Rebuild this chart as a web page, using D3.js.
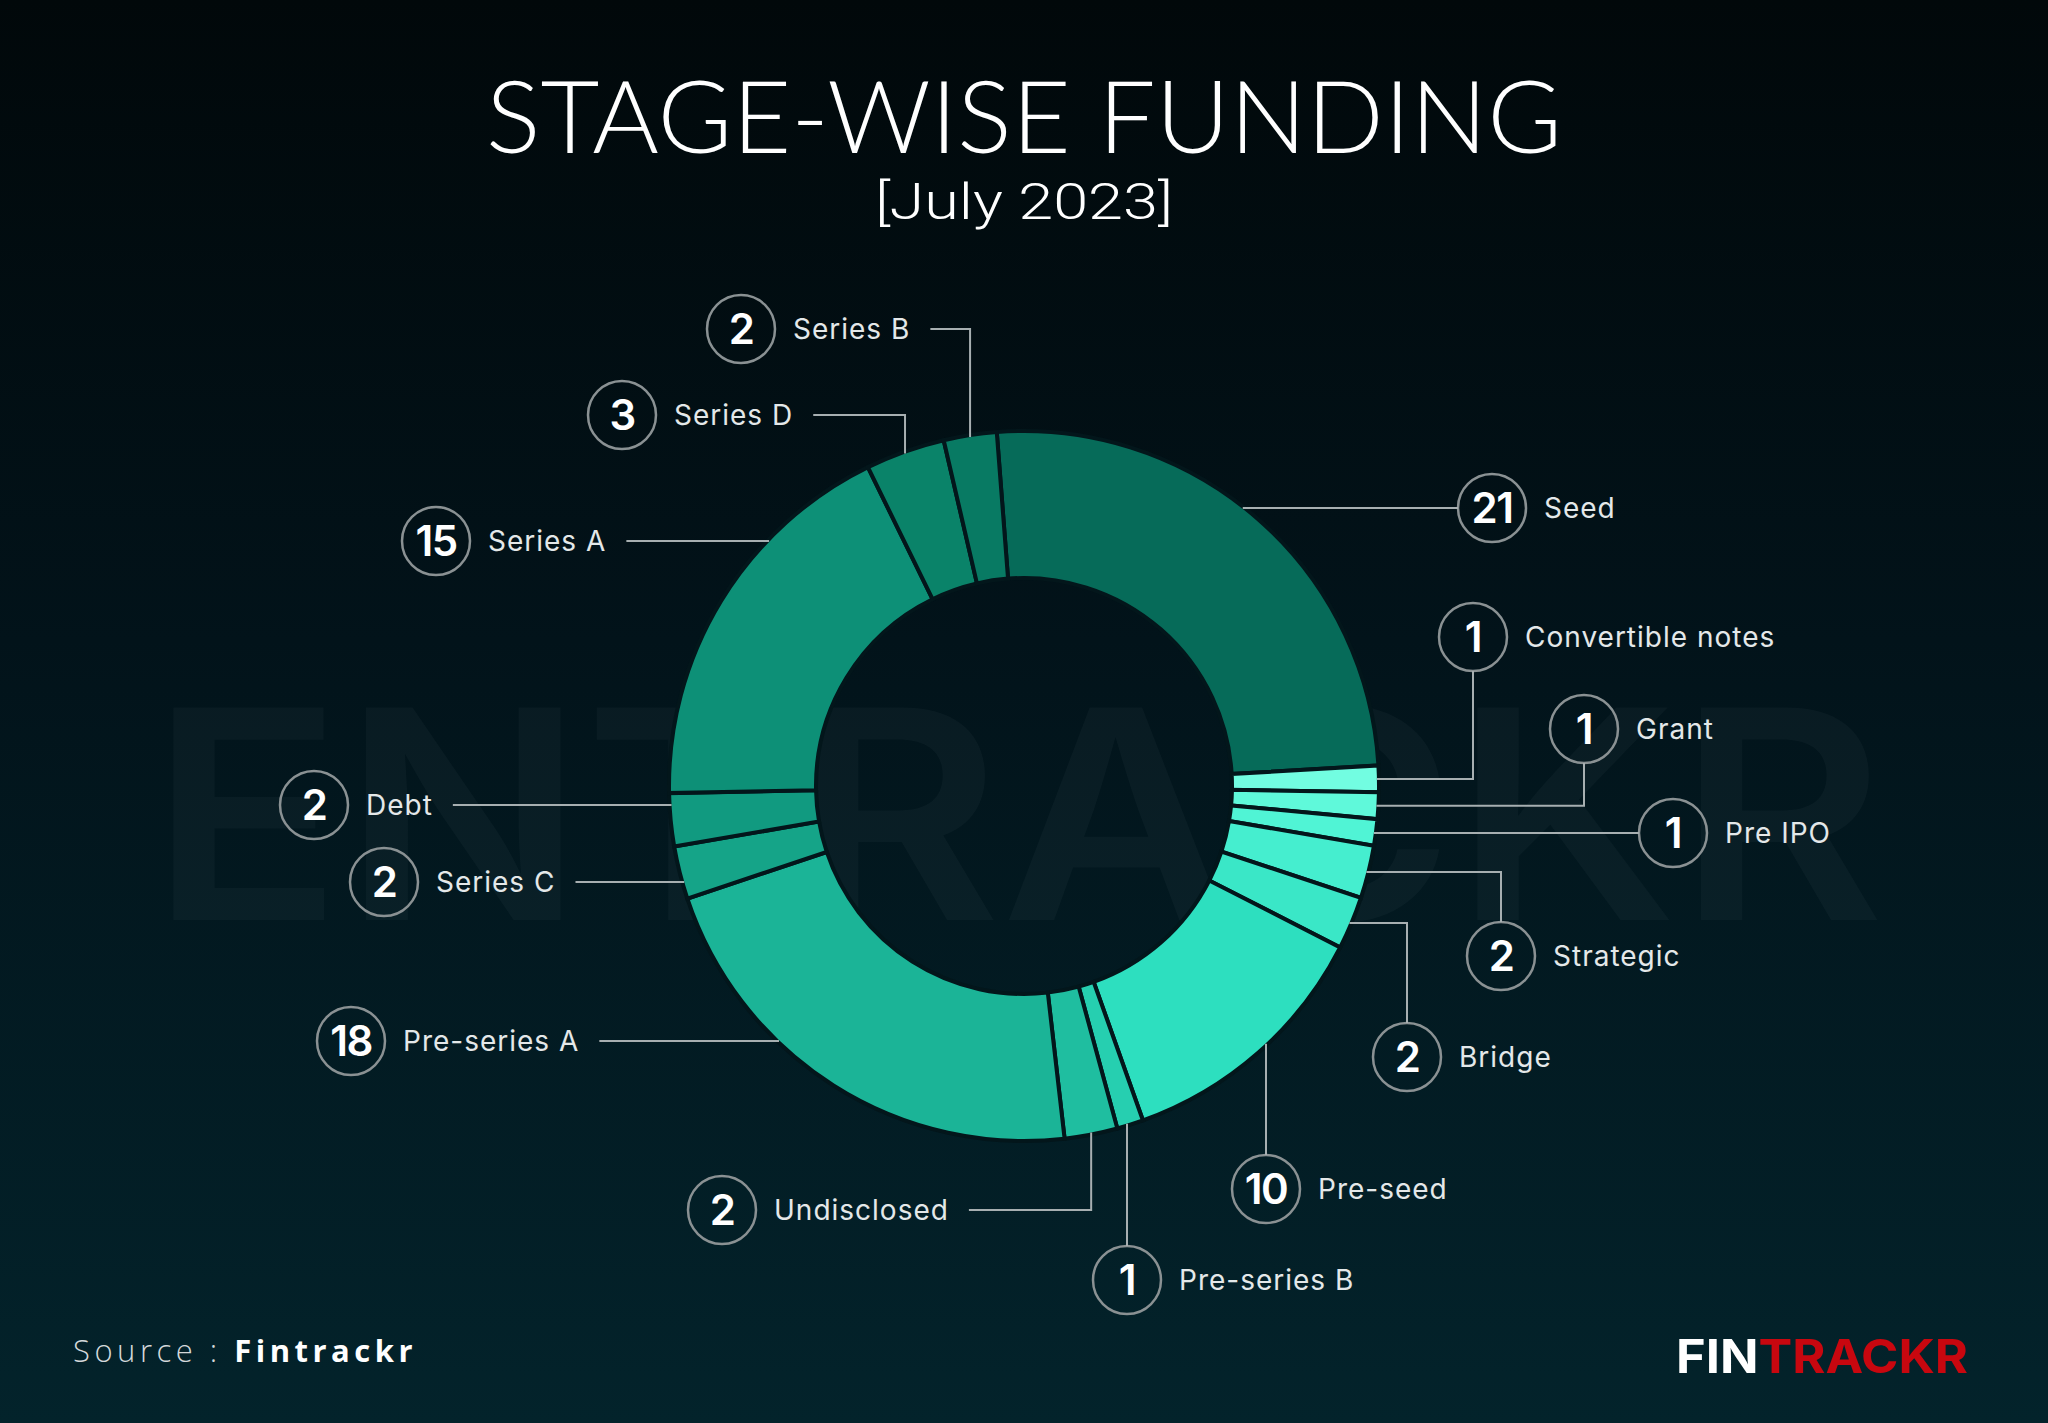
<!DOCTYPE html>
<html>
<head>
<meta charset="utf-8">
<script src="https://cdn.jsdelivr.net/npm/d3@7"></script>
<style>
  html, body { margin: 0; padding: 0; background: #03141a; }
  svg { display: block; }
</style>
</head>
<body>
<div id="chart"></div>
<script>
// ---------------- DATA ----------------
const categories = ["Seed", "Convertible notes", "Grant", "Pre IPO", "Strategic", "Bridge",
  "Pre-seed", "Pre-series B", "Undisclosed", "Pre-series A", "Series C", "Debt",
  "Series A", "Series D", "Series B"];
const values = [21, 1, 1, 1, 2, 2, 10, 1, 2, 18, 2, 2, 15, 3, 2];
const sliceColors = ["#066b59", "#72fde1", "#5ff9da", "#50f4d5", "#45eecf", "#3ae7c7",
  "#2ddfbf", "#26cfb0", "#1fbea0", "#1bb497", "#15a488", "#119a80",
  "#0d9077", "#0a8369", "#087a63"];
const titleText = "STAGE-WISE FUNDING";
const subtitleText = "[July 2023]";
const sourceLabel = "Source : ";
const sourceName = "Fintrackr";
const logoParts = ["FIN", "TRACKR"];
const watermarkText = "ENTRACKR";

// ---------------- LAYOUT (label placement) ----------------
const labelLayout = {
  "Seed":              { x: 1492, y: 508,  side: "right", leader: "h" },
  "Convertible notes": { x: 1473, y: 637,  side: "right", leader: "hv" },
  "Grant":             { x: 1584, y: 729,  side: "right", leader: "hv" },
  "Pre IPO":           { x: 1673, y: 833,  side: "right", leader: "h" },
  "Strategic":         { x: 1501, y: 956,  side: "right", leader: "hv" },
  "Bridge":            { x: 1407, y: 1057, side: "right", leader: "hv" },
  "Pre-seed":          { x: 1266, y: 1189, side: "right", leader: "v" },
  "Pre-series B":      { x: 1127, y: 1280, side: "right", leader: "v" },
  "Undisclosed":       { x: 722,  y: 1210, side: "left",  leader: "elbow" },
  "Pre-series A":      { x: 351,  y: 1041, side: "left",  leader: "h" },
  "Series C":          { x: 384,  y: 882,  side: "left",  leader: "h" },
  "Debt":              { x: 314,  y: 805,  side: "left",  leader: "h" },
  "Series A":          { x: 436,  y: 541,  side: "left",  leader: "h" },
  "Series D":          { x: 622,  y: 415,  side: "left",  leader: "elbow" },
  "Series B":          { x: 741,  y: 329,  side: "left",  leader: "elbow" }
};

const W = 2048, H = 1423;
const cx = 1024, cy = 786, R = 355, r0 = 208;
const startDeg = -4.4;
const circleR = 34;

const svg = d3.select("#chart").append("svg")
  .attr("width", W).attr("height", H).attr("viewBox", `0 0 ${W} ${H}`);

// background
const defs = svg.append("defs");
const bg = defs.append("linearGradient").attr("id", "bg")
  .attr("x1", 0).attr("y1", 0).attr("x2", 0).attr("y2", 1);
bg.append("stop").attr("offset", "0%").attr("stop-color", "#01080a");
bg.append("stop").attr("offset", "45%").attr("stop-color", "#02131a");
bg.append("stop").attr("offset", "100%").attr("stop-color", "#03232b");
svg.append("rect").attr("width", W).attr("height", H).attr("fill", "url(#bg)");

// watermark
svg.append("text")
  .attr("x", 150).attr("y", 920)
  .attr("textLength", 1735).attr("lengthAdjust", "spacingAndGlyphs")
  .attr("font-family", "Inter, 'Noto Sans', sans-serif")
  .attr("font-weight", 600).attr("font-size", 292)
  .attr("fill", "#ffffff").attr("fill-opacity", 0.032)
  .text(watermarkText);

// title
svg.append("text")
  .attr("x", cx).attr("y", 153).attr("text-anchor", "middle")
  .attr("font-family", "Lato, Inter, sans-serif").attr("font-weight", 300)
  .attr("font-size", 100).attr("fill", "#ffffff")
  .attr("textLength", 1076).attr("lengthAdjust", "spacingAndGlyphs")
  .text(titleText);
svg.append("text")
  .attr("x", cx).attr("y", 219).attr("text-anchor", "middle")
  .attr("font-family", "Roboto, Lato, sans-serif").attr("font-weight", 300)
  .attr("font-size", 50).attr("fill", "#ffffff")
  .attr("textLength", 298).attr("lengthAdjust", "spacingAndGlyphs")
  .text(subtitleText);

// donut
const data = categories.map((c, i) => ({ name: c, value: values[i], color: sliceColors[i] }));
const pie = d3.pie().value(d => d.value).sort(null)
  .startAngle(startDeg * Math.PI / 180)
  .endAngle(startDeg * Math.PI / 180 + 2 * Math.PI);
const arcs = pie(data);
const arc = d3.arc().innerRadius(r0).outerRadius(R);

const g = svg.append("g").attr("transform", `translate(${cx},${cy})`);
g.selectAll("path.slice").data(arcs).join("path")
  .attr("class", "slice")
  .attr("d", arc)
  .attr("fill", d => d.data.color)
  .attr("stroke", "#03161b").attr("stroke-width", 4).attr("stroke-linejoin", "miter");

// labels + leaders
const labelFont = "Inter, 'Noto Sans', sans-serif";
const lineColor = "#a7afb1";
const lg = svg.append("g");

arcs.forEach(a => {
  const L = labelLayout[a.data.name];
  const mid = (a.startAngle + a.endAngle) / 2;
  const ax = cx + R * Math.sin(mid), ay = cy - R * Math.cos(mid);

  lg.append("circle").attr("cx", L.x).attr("cy", L.y).attr("r", circleR)
    .attr("fill", "none").attr("stroke", "#8a9193").attr("stroke-width", 2.5);
  lg.append("text").attr("x", L.x).attr("y", L.y).attr("dy", "0.36em")
    .attr("text-anchor", "middle")
    .attr("font-family", labelFont).attr("font-weight", 600).attr("font-size", 42)
    .attr("letter-spacing", -1.5)
    .attr("fill", "#ffffff").text(a.data.value);
  const t = lg.append("text").attr("x", L.x + 52).attr("y", L.y).attr("dy", "0.35em")
    .attr("font-family", labelFont).attr("font-weight", 400).attr("font-size", 28)
    .attr("letter-spacing", 1)
    .attr("fill", "#e4e8e9").text(a.data.name);
  const textEnd = L.x + 52 + t.node().getComputedTextLength();

  let p = d3.path();
  if (L.side === "right") {
    if (L.leader === "h") {
      const x0 = cx + Math.sqrt(R * R - (L.y - cy) ** 2);
      p.moveTo(x0 - 2, L.y); p.lineTo(L.x - circleR, L.y);
    } else if (L.leader === "hv") {
      p.moveTo(ax - 2, ay); p.lineTo(L.x, ay);
      p.lineTo(L.x, L.y < ay ? L.y + circleR : L.y - circleR);
    } else if (L.leader === "v") {
      const y0 = cy + Math.sqrt(R * R - (L.x - cx) ** 2);
      p.moveTo(L.x, y0 - 2); p.lineTo(L.x, L.y - circleR);
    }
  } else {
    const xs = textEnd + 20;
    if (L.leader === "h") {
      const x0 = cx - Math.sqrt(R * R - (L.y - cy) ** 2);
      p.moveTo(xs, L.y); p.lineTo(x0 + 2, L.y);
    } else {
      p.moveTo(xs, L.y); p.lineTo(ax, L.y); p.lineTo(ax, ay + (ay > L.y ? 2 : -2));
    }
  }
  lg.append("path").attr("d", p.toString()).attr("fill", "none")
    .attr("stroke", lineColor).attr("stroke-width", 2);
});

// source
const src = svg.append("text").attr("x", 73).attr("y", 1362)
  .attr("font-family", "'Open Sans', 'Noto Sans', sans-serif").attr("font-size", 31)
  .attr("letter-spacing", 4.5);
src.append("tspan").attr("fill", "#d3d8da").attr("font-weight", 300).text(sourceLabel);
src.append("tspan").attr("fill", "#ffffff").attr("font-weight", 700).text(sourceName);

// logo
const logo = svg.append("text").attr("x", 1676).attr("y", 1373)
  .attr("font-family", "Inter, 'Noto Sans', sans-serif").attr("font-weight", 700)
  .attr("font-size", 47).attr("textLength", 292).attr("lengthAdjust", "spacingAndGlyphs");
logo.append("tspan").attr("fill", "#ffffff").text(logoParts[0]);
logo.append("tspan").attr("fill", "#c8070f").text(logoParts[1]);
</script>
</body>
</html>
